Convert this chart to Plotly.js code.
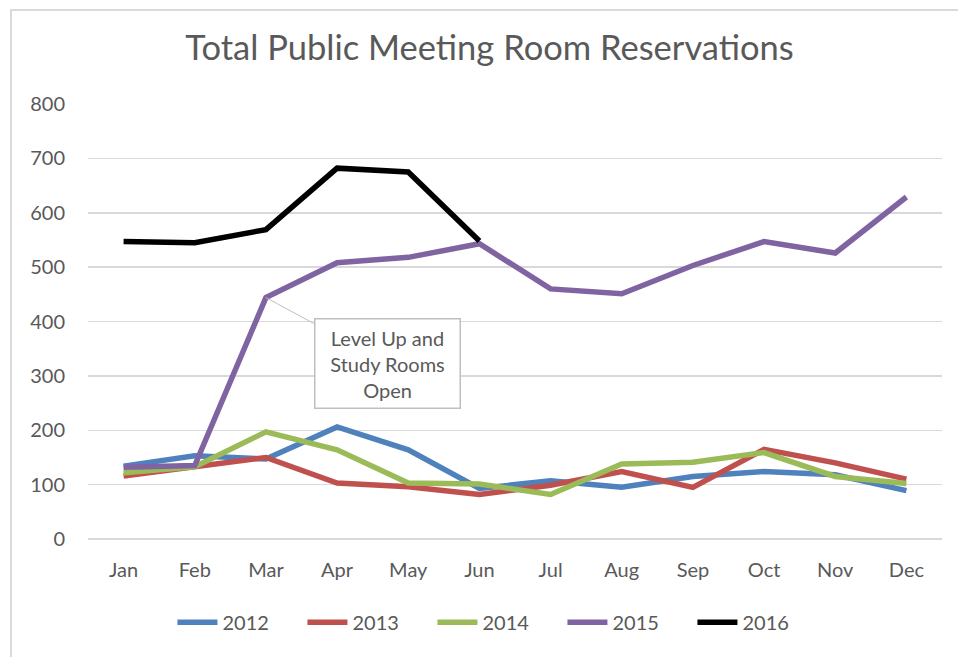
<!DOCTYPE html>
<html>
<head>
<meta charset="utf-8">
<script src="https://cdn.plot.ly/plotly-3.0.1.min.js"></script>
<style>
  html, body { margin:0; padding:0; background:#fff; }
  #wrap { position:relative; width:958px; height:657px; overflow:hidden; }
  #chart { width:958px; height:657px; }
  #frame { position:absolute; left:10px; top:9px; width:960px; height:660px; border:2px solid #d9d9d9; pointer-events:none; box-sizing:border-box; }
</style>
</head>
<body>
<div id="wrap">
  <div id="chart"></div>
  <div id="frame"></div>
</div>
<script>
const months = ["Jan","Feb","Mar","Apr","May","Jun","Jul","Aug","Sep","Oct","Nov","Dec"];
const y2012 = [134, 153, 147, 206, 164, 93, 107, 95, 115, 124, 118, 89];
const y2013 = [116, 132, 150, 103, 96, 82, 99, 124, 95, 165, 140, 110];
const y2014 = [122, 133, 197, 164, 103, 101, 82, 138, 141, 159, 115, 102];
const y2015 = [132, 135, 444, 508, 518, 543, 460, 451, 503, 547, 526, 629];
const y2016 = [547, 545, 569, 682, 675, 548];
const seriesNames = ["2012","2013","2014","2015","2016"];
const seriesColors = ["#4f81bd","#c0504d","#9bbb59","#8064a2","#000000"];
const seriesData = [y2012, y2013, y2014, y2015, y2016];
const yTicks = [0,100,200,300,400,500,600,700,800];
const noteText = "Level Up and<br>Study Rooms<br>Open";
const noteMonth = "Mar";
const noteValue = 444;

const FONT = "Lato, 'Open Sans', sans-serif";
const traces = seriesData.map((d, i) => ({
  type: "scatter",
  mode: "lines",
  name: seriesNames[i],
  x: months.slice(0, d.length),
  y: d,
  line: { color: seriesColors[i], width: 5.5 },
  hoverinfo: "x+y+name"
}));

const layout = {
  width: 958, height: 657,
  margin: { l: 88, r: 16, t: 104, b: 118 },
  paper_bgcolor: "#ffffff",
  plot_bgcolor: "#ffffff",
  font: { family: FONT, color: "#595959", size: 20 },
  title: {
    text: "Total Public Meeting Room Reservations",
    font: { family: FONT, size: 34.5, color: "#595959" },
    x: 0.511, xanchor: "center", y: 0.927, yanchor: "middle"
  },
  xaxis: {
    type: "category",
    categoryorder: "array",
    categoryarray: months,
    range: [-0.5, 11.5],
    showgrid: false,
    zeroline: false,
    showline: false,
    ticks: "",
    automargin: false,
    tickfont: { family: FONT, size: 20, color: "#595959" },
    ticklabelstandoff: 17
  },
  yaxis: {
    range: [0, 800],
    tickvals: yTicks,
    ticktext: yTicks.map(String),
    showgrid: true,
    gridcolor: "#d9d9d9",
    gridwidth: 1.5,
    zeroline: true,
    zerolinecolor: "#d9d9d9",
    zerolinewidth: 1.5,
    showline: false,
    ticks: "",
    automargin: false,
    tickfont: { family: FONT, size: 20, color: "#595959" },
    ticklabelstandoff: 22
  },
  legend: {
    orientation: "h",
    xref: "container", yref: "container",
    x: 0.18, xanchor: "left",
    y: 0.053, yanchor: "middle",
    font: { family: FONT, size: 20, color: "#595959" },
    itemwidth: 40,
    entrywidth: 75, entrywidthmode: "pixels",
    tracegroupgap: 0
  },
  annotations: [{
    x: noteMonth, y: noteValue, xref: "x", yref: "y",
    text: noteText,
    showarrow: true,
    arrowhead: 0,
    arrowwidth: 1,
    arrowcolor: "#bfbfbf",
    ax: 122, ay: 66,
    font: { family: FONT, size: 20, color: "#595959" },
    align: "center",
    bgcolor: "#ffffff",
    bordercolor: "#bfbfbf",
    borderwidth: 1.5,
    borderpad: 6,
    width: 132
  }],
  showlegend: true
};

Plotly.newPlot("chart", traces, layout, { displayModeBar: false, staticPlot: true });
</script>
</body>
</html>
